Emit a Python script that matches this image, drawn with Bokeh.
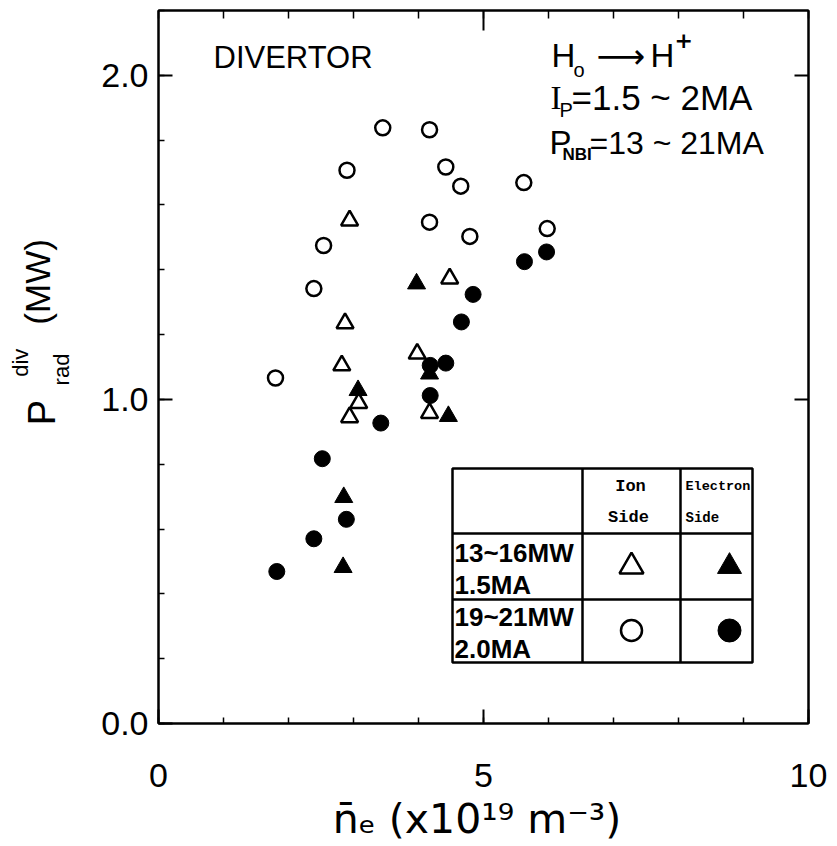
import math
from bokeh.plotting import figure
from bokeh.layouts import row
from bokeh.models import Range1d, LinearAxis, FixedTicker, Label, PrintfTickFormatter
from bokeh.embed import file_html
from bokeh.resources import INLINE

# ---------------- data ----------------
# 19~21 MW, 2.0 MA, ion side (open circles)
oc_x = [3.45, 4.17, 2.90, 4.42, 4.65, 4.17, 4.79, 2.54, 2.39, 1.80, 5.62, 5.98]
oc_y = [1.838, 1.832, 1.707, 1.717, 1.658, 1.547, 1.503, 1.475, 1.342, 1.066, 1.669, 1.527]
# 19~21 MW, 2.0 MA, electron side (filled circles)
fc_x = [4.84, 4.66, 4.42, 4.18, 4.18, 3.42, 5.63, 5.97, 2.52, 2.89, 2.39, 1.82]
fc_y = [1.324, 1.239, 1.112, 1.105, 1.012, 0.927, 1.425, 1.455, 0.817, 0.630, 0.570, 0.469]
# 13~16 MW, 1.5 MA, ion side (open triangles)
ot_x = [2.94, 4.48, 2.87, 2.82, 3.98, 3.08, 2.94, 4.17]
ot_y = [1.552, 1.373, 1.235, 1.105, 1.141, 0.989, 0.945, 0.958]
# 13~16 MW, 1.5 MA, electron side (filled triangles)
ft_x = [3.97, 3.07, 4.17, 4.46, 2.85, 2.84]
ft_y = [1.357, 1.028, 1.079, 0.948, 0.698, 0.482]

x_major = [0, 5, 10]
x_minor = [0, 1, 2, 3, 4, 5, 6, 7, 8, 9, 10]
y_major = [0.0, 1.0, 2.0]
y_minor = [0.0, 0.2, 0.4, 0.6, 0.8, 1.0, 1.2, 1.4, 1.6, 1.8, 2.0, 2.2]

x_title = "n\u0304\u2091  (x10\u00b9\u2079 m\u207b\u00b3)"

# ---------------- layout (page pixels) ----------------
W, H = 837, 846
STRIP = 78                      # left strip holding the rotated y title
FL, FR, FT, FB = 158, 808, 10, 723
XMAX, YMAX = 10.0, 2.2


def dx(px):
    return (px - FL) / (FR - FL) * XMAX


def dy(py):
    return (FB - py) / (FB - FT) * YMAX


p = figure(width=W - STRIP, height=H, x_range=Range1d(0, XMAX), y_range=Range1d(0, YMAX),
           output_backend="svg", toolbar_location=None,
           min_border_left=FL - STRIP, min_border_right=W - FR, min_border_top=FT,
           min_border_bottom=H - FB, background_fill_color="white",
           border_fill_color="white")
p.grid.visible = False
p.outline_line_color = "black"
p.outline_line_width = 2

TICK_FONT = "Liberation Sans"

xa = p.xaxis[0]
xa.ticker = FixedTicker(ticks=x_major, minor_ticks=x_minor)
xa.formatter = PrintfTickFormatter(format="%d")
ya = p.yaxis[0]
ya.ticker = FixedTicker(ticks=y_major, minor_ticks=y_minor)
ya.formatter = PrintfTickFormatter(format="%.1f")
for ax in (xa, ya):
    ax.axis_line_width = 2
    ax.major_tick_in = 14
    ax.major_tick_out = 0
    ax.minor_tick_in = 6
    ax.minor_tick_out = 0
    ax.major_tick_line_width = 2
    ax.minor_tick_line_width = 1.5
    ax.major_label_text_font = TICK_FONT
    ax.major_label_text_font_size = "34px"
    ax.major_label_text_color = "black"
xa.major_label_standoff = 40
ya.major_label_standoff = 10
xa.axis_label = x_title
xa.axis_label_text_font = "DejaVu Sans"
xa.axis_label_text_font_style = "normal"
xa.axis_label_text_font_size = "41px"
xa.axis_label_text_color = "black"
xa.axis_label_standoff = 5

top = LinearAxis(ticker=FixedTicker(ticks=[5], minor_ticks=x_minor),
                 major_label_text_font_size="0px", major_label_text_color=None,
                 major_label_standoff=0, major_tick_in=20, major_tick_out=0,
                 minor_tick_in=8, minor_tick_out=0, axis_line_width=2,
                 major_tick_line_width=2, minor_tick_line_width=1.5)
p.add_layout(top, "above")
right = LinearAxis(ticker=FixedTicker(ticks=[1.0, 2.0], minor_ticks=[]),
                   major_label_text_font_size="0px", major_label_text_color=None,
                   major_label_standoff=0, major_tick_in=14, major_tick_out=0,
                   axis_line_width=2, major_tick_line_width=2)
p.add_layout(right, "right")

# ---------------- data marks ----------------
p.scatter(oc_x, oc_y, marker="circle", size=15, fill_color="white",
          line_color="black", line_width=2.5)
p.scatter(ot_x, ot_y, marker="triangle", size=17, fill_color="white",
          line_color="black", line_width=2.5)
p.scatter(fc_x, fc_y, marker="circle", size=16, fill_color="black",
          line_color="black", line_width=1)
p.scatter(ft_x, ft_y, marker="triangle", size=18, fill_color="black",
          line_color="black", line_width=1)

# ---------------- legend table ----------------
TL, TR, TT, TB = 452, 752, 468, 662
C1, C2 = 582, 680
R1, R2 = 533, 599
p.quad(left=[dx(TL)], right=[dx(TR)], top=[dy(TT)], bottom=[dy(TB)],
       fill_color="white", line_color="black", line_width=2.5)
p.segment(x0=[dx(C1), dx(C2), dx(TL), dx(TL)], y0=[dy(TT), dy(TT), dy(R1), dy(R2)],
          x1=[dx(C1), dx(C2), dx(TR), dx(TR)], y1=[dy(TB), dy(TB), dy(R1), dy(R2)],
          line_color="black", line_width=2.5)
p.scatter([dx(631)], [dy(566)], marker="triangle", size=24, fill_color="white",
          line_color="black", line_width=2.5)
p.scatter([dx(729)], [dy(566)], marker="triangle", size=24, fill_color="black",
          line_color="black", line_width=1)
p.scatter([dx(631)], [dy(630)], marker="circle", size=21, fill_color="white",
          line_color="black", line_width=2.5)
p.scatter([dx(729)], [dy(630)], marker="circle", size=23, fill_color="black",
          line_color="black", line_width=1)


def lab(px, py, text, size, align="left", font="Liberation Sans", style="normal",
        angle=0.0, fig=None, conv=True):
    fig = fig or p
    x, y = (dx(px), dy(py)) if conv else (px, H - py)
    fig.add_layout(Label(x=x, y=y, text=text, text_font=font,
                         text_font_size=f"{size}px", text_font_style=style,
                         text_align=align, text_baseline="middle", text_color="black",
                         angle=angle))


MONO = "Liberation Mono"
lab(630, 486, "Ion", 17, "center", MONO, "bold")
lab(628, 517, "Side", 17, "center", MONO, "bold")
lab(685, 486, "Electron", 13.5, "left", MONO, "bold")
lab(685, 517, "Side", 14, "left", MONO, "bold")
lab(454, 552, "13~16MW", 26, "left", "Liberation Sans", "bold")
lab(454, 584, "1.5MA", 26, "left", "Liberation Sans", "bold")
lab(454, 616, "19~21MW", 26, "left", "Liberation Sans", "bold")
lab(454, 648, "2.0MA", 26, "left", "Liberation Sans", "bold")

# ---------------- annotations in the plot ----------------
lab(213, 57, "DIVERTOR", 31)
lab(551, 55, "H", 33)
lab(573, 69, "o", 20)
lab(596, 55, "\u27f6", 34, font="DejaVu Sans")
lab(650, 55, "H", 33)
lab(674, 39, "+", 22, font="DejaVu Sans", style="bold")
lab(550, 97, "I", 33, font="Liberation Serif")
lab(559, 109, "P", 20)
lab(571, 97, "=1.5 ~ 2MA", 35)
lab(549, 142, "P", 33)
lab(562, 154, "NBI", 17, style="bold")
lab(589, 142, "=13 ~ 21MA", 32)

# ---------------- left strip with the rotated y-axis title ----------------
ly = figure(width=STRIP, height=H, x_range=Range1d(0, STRIP), y_range=Range1d(0, H),
            output_backend="svg", toolbar_location=None, x_axis_type=None,
            y_axis_type=None, min_border=0, min_border_left=0, min_border_right=0,
            min_border_top=0, min_border_bottom=0, outline_line_color=None,
            background_fill_color="white", border_fill_color="white")
ly.grid.visible = False
R = math.pi / 2
lab(41, 477, "P", 38, "center", angle=R, fig=ly, conv=False)
lab(20, 418, "div", 22, "center", angle=R, fig=ly, conv=False)
lab(61, 426, "rad", 22, "center", angle=R, fig=ly, conv=False)
lab(37, 322, "(MW)", 35, "center", angle=R, fig=ly, conv=False)

layout = row(ly, p)
open("out.html", "w").write(file_html(layout, INLINE))
